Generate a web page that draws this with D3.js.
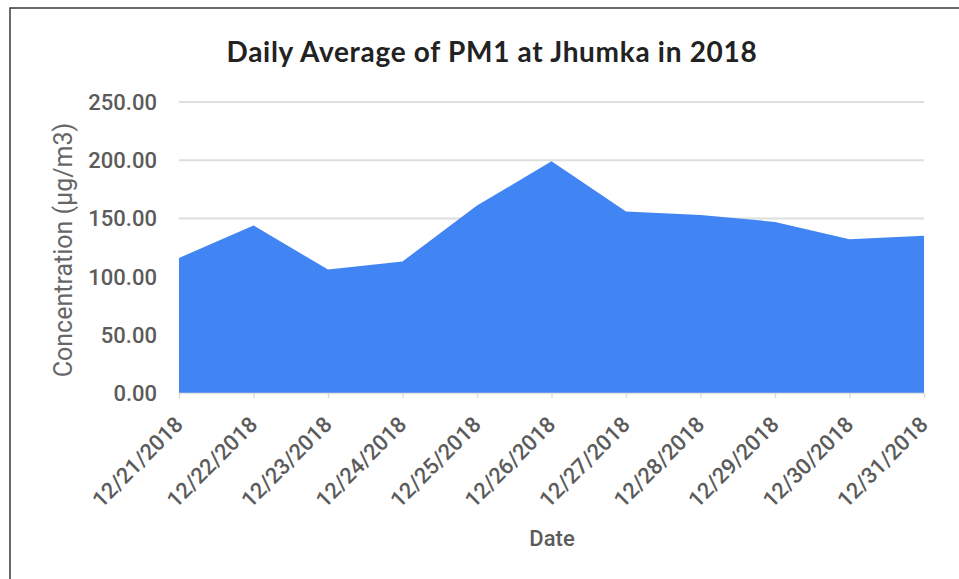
<!DOCTYPE html>
<html>
<head>
<meta charset="utf-8">
<script src="https://cdn.jsdelivr.net/npm/d3@7"></script>
<style>
  body { margin: 0; background: #fff; }
  svg { display: block; }
</style>
</head>
<body>
<svg id="chart"></svg>
<script>
// chart data
const dates = ["12/21/2018", "12/22/2018", "12/23/2018", "12/24/2018", "12/25/2018",
  "12/26/2018", "12/27/2018", "12/28/2018", "12/29/2018", "12/30/2018", "12/31/2018"];
const pm1 = [116, 144, 106, 113, 161, 199, 156, 153, 147, 132, 135];
const yTicks = [0, 50, 100, 150, 200, 250];

const W = 959, H = 579;
const plot = { left: 179, right: 924, top: 102, bottom: 393 };

const svg = d3.select("#chart")
  .attr("width", W)
  .attr("height", H);

// frame of the screenshot
svg.append("path")
  .attr("d", `M10,${H} L10,8 L${W},8`)
  .attr("fill", "none")
  .attr("stroke", "#3a3a3a")
  .attr("stroke-width", 1.5);

const x = d3.scalePoint()
  .domain(dates)
  .range([plot.left, plot.right]);

const y = d3.scaleLinear()
  .domain([0, 250])
  .range([plot.bottom, plot.top]);

// gridlines
svg.append("g")
  .selectAll("line")
  .data(yTicks.filter(d => d > 0))
  .enter().append("line")
    .attr("x1", plot.left)
    .attr("x2", plot.right)
    .attr("y1", d => y(d))
    .attr("y2", d => y(d))
    .attr("stroke", "#dedede")
    .attr("stroke-width", 2);

// y tick labels
svg.append("g")
  .selectAll("text")
  .data(yTicks)
  .enter().append("text")
    .attr("x", 157)
    .attr("y", d => y(d))
    .attr("dy", "0.36em")
    .attr("text-anchor", "end")
    .attr("font-family", "Roboto, 'Liberation Sans', sans-serif")
    .attr("font-weight", 500)
    .attr("font-size", 22)
    .attr("fill", "#5b5b5b")
    .text(d => d3.format(".2f")(d));

// the area itself
const area = d3.area()
  .x(d => x(d.date))
  .y0(y(0))
  .y1(d => y(d.value));

svg.append("path")
  .datum(dates.map((d, i) => ({ date: d, value: pm1[i] })))
  .attr("d", area)
  .attr("fill", "#4184f3");

// x axis ticks + rotated labels
const xAxis = svg.append("g")
  .attr("transform", `translate(0,${plot.bottom})`)
  .call(d3.axisBottom(x).tickSize(5).tickSizeOuter(0));

xAxis.select(".domain").attr("stroke", "#e3e3e3").attr("stroke-width", 1.5);
xAxis.selectAll(".tick line").attr("stroke", "#dcdcdc").attr("stroke-width", 1.5);
xAxis.selectAll(".tick text")
  .attr("font-family", "Roboto, 'Liberation Sans', sans-serif")
  .attr("font-weight", 500)
  .attr("font-size", 22)
  .attr("fill", "#5b5b5b")
  .attr("text-anchor", "end")
  .attr("transform", "translate(-6,22) rotate(-45)")
  .attr("dy", "0.7em")
  .attr("y", 0)
  .attr("x", 0);

// title
svg.append("text")
  .attr("x", 492)
  .attr("y", 62)
  .attr("text-anchor", "middle")
  .attr("font-family", "Lato, 'Open Sans', sans-serif")
  .attr("font-weight", 700)
  .attr("font-size", 28)
  .attr("letter-spacing", 0.7)
  .attr("fill", "#222")
  .text("Daily Average of PM1 at Jhumka in 2018");

// axis titles
svg.append("text")
  .attr("transform", "translate(72,250) rotate(-90)")
  .attr("text-anchor", "middle")
  .attr("font-family", "Roboto, 'Liberation Sans', sans-serif")
  .attr("font-size", 25)
  .attr("fill", "#666")
  .text("Concentration (µg/m3)");

svg.append("text")
  .attr("x", 552)
  .attr("y", 546)
  .attr("text-anchor", "middle")
  .attr("font-family", "Roboto, 'Liberation Sans', sans-serif")
  .attr("font-weight", 500)
  .attr("font-size", 22)
  .attr("fill", "#5b5b5b")
  .text("Date");
</script>
</body>
</html>
